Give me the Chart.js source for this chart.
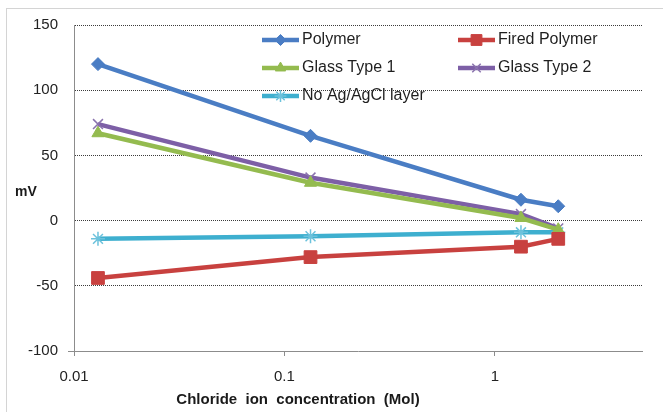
<!DOCTYPE html>
<html>
<head>
<meta charset="utf-8">
<script src="https://cdn.jsdelivr.net/npm/chart.js@4.4.1/dist/chart.umd.min.js"></script>
<style>
  html, body { margin: 0; padding: 0; background: #ffffff; }
  #wrap { width: 663px; height: 412px; position: relative; }
</style>
</head>
<body>
<div id="wrap"><canvas id="chart" width="663" height="412"></canvas></div>
<script>
// Chloride ion concentration (Mol) for each measurement
const concentrations = [0.013, 0.133, 1.33, 2];

// Electrode potential (mV) per electrode type
const polymer = [120, 65, 16, 11];
const firedPolymer = [-44, -28, -20, -14];
const glassType1 = [67, 29, 2, -7];
const glassType2 = [74, 33, 5, -6];
const noAgAgCl = [-14, -12, -9, -9];

const seriesNames = ['Polymer', 'Fired Polymer', 'Glass Type 1', 'Glass Type 2', 'No Ag/AgCl layer'];

// Axis tick labels
const xTickValues = [0.01, 0.1, 1];
const yTickValues = [-100, -50, 0, 50, 100, 150];

const xTitle = 'Chloride  ion  concentration  (Mol)';
const yTitle = 'mV';

const toPoints = (values) => values.map((v, i) => ({ x: concentrations[i], y: v }));

const styles = [
  { color: '#4a7dc4', pointStyle: 'rectRot', radius: 6.5, pointColor: '#4a7dc4', borderWidth: 1 },
  { color: '#c8413f', pointStyle: 'rect', radius: 9, pointColor: '#c8413f', borderWidth: 1 },
  { color: '#94bb4f', pointStyle: 'triangle', radius: 7, pointColor: '#94bb4f', borderWidth: 1 },
  { color: '#7d5fa6', pointStyle: 'crossRot', radius: 7, pointColor: '#8a73ad', borderWidth: 1.5 },
  { color: '#3eafcf', pointStyle: 'star', radius: 7, pointColor: '#6cc2dc', borderWidth: 1.5 }
];

const seriesValues = [polymer, firedPolymer, glassType1, glassType2, noAgAgCl];

const datasets = seriesValues.map((vals, i) => ({
  label: seriesNames[i],
  data: toPoints(vals),
  borderColor: styles[i].color,
  backgroundColor: styles[i].pointColor,
  borderWidth: 4.5,
  tension: 0,
  pointStyle: styles[i].pointStyle,
  pointRadius: styles[i].radius,
  pointHoverRadius: styles[i].radius,
  pointBackgroundColor: styles[i].pointColor,
  pointBorderColor: styles[i].pointColor,
  pointBorderWidth: styles[i].borderWidth,
  fill: false
}));

// Frame, axis titles and the in-plot two-column legend
const decorations = {
  id: 'decorations',
  beforeDraw(chart) {
    const ctx = chart.ctx;
    ctx.save();
    ctx.fillStyle = '#ffffff';
    ctx.fillRect(0, 0, chart.width, chart.height);
    ctx.strokeStyle = '#d4d4d4';
    ctx.lineWidth = 1;
    ctx.strokeRect(6.5, 8.5, chart.width + 20, chart.height + 20);
    ctx.restore();
  },
  afterDraw(chart) {
    const ctx = chart.ctx;
    ctx.save();
    // axis titles
    ctx.fillStyle = '#1a1a1a';
    ctx.font = 'bold 14px "Liberation Sans", Arial, sans-serif';
    ctx.textAlign = 'left';
    ctx.textBaseline = 'middle';
    ctx.fillText(yTitle, 15, 192);
    ctx.font = 'bold 15px "Liberation Sans", Arial, sans-serif';
    ctx.textAlign = 'center';
    ctx.fillText(xTitle, 298, 400);

    // legend
    const colX = [262, 458];
    const rowY = [40, 68, 96];
    const sampleLen = 37;
    chart.data.datasets.forEach((ds, i) => {
      const x0 = colX[i % 2];
      const y = rowY[Math.floor(i / 2)];
      ctx.strokeStyle = ds.borderColor;
      ctx.lineWidth = 4.5;
      ctx.beginPath();
      ctx.moveTo(x0, y);
      ctx.lineTo(x0 + sampleLen, y);
      ctx.stroke();
      ctx.fillStyle = ds.pointBackgroundColor;
      ctx.strokeStyle = ds.pointBorderColor;
      ctx.lineWidth = ds.pointBorderWidth;
      Chart.helpers.drawPoint(ctx, {
        pointStyle: ds.pointStyle,
        radius: ds.pointRadius * 0.85,
        rotation: 0,
        borderWidth: ds.pointBorderWidth
      }, x0 + sampleLen / 2, y);
      ctx.fillStyle = '#1f1f1f';
      ctx.font = '16px "Liberation Sans", Arial, sans-serif';
      ctx.textAlign = 'left';
      ctx.textBaseline = 'middle';
      ctx.fillText(ds.label, x0 + sampleLen + 3, y);
    });
    ctx.restore();
  }
};

new Chart(document.getElementById('chart'), {
  type: 'line',
  data: { datasets },
  plugins: [decorations],
  options: {
    responsive: false,
    animation: false,
    events: [],
    layout: { padding: { left: 0, top: 25, right: 21, bottom: 0 } },
    plugins: { legend: { display: false }, tooltip: { enabled: false } },
    scales: {
      x: {
        type: 'logarithmic',
        min: 0.01,
        max: 5,
        afterBuildTicks(scale) {
          scale.ticks = xTickValues.map(v => ({ value: v }));
        },
        afterFit(scale) { scale.height = 61; },
        ticks: {
          autoSkip: false,
          maxRotation: 0,
          padding: 12,
          color: '#222222',
          font: { family: '"Liberation Sans", Arial, sans-serif', size: 15 },
          callback: (v) => String(v)
        },
        grid: {
          drawOnChartArea: false,
          drawTicks: true,
          tickLength: 5,
          color: '#8c8c8c'
        },
        border: { display: true, color: '#8c8c8c', width: 1 }
      },
      y: {
        type: 'linear',
        min: -100,
        max: 150,
        afterBuildTicks(scale) {
          scale.ticks = yTickValues.map(v => ({ value: v }));
        },
        afterFit(scale) { scale.width = 74; },
        ticks: {
          padding: 10,
          color: '#222222',
          font: { family: '"Liberation Sans", Arial, sans-serif', size: 15 },
          callback: (v) => String(v)
        },
        grid: {
          drawTicks: true,
          tickLength: 6,
          lineWidth: 1,
          color: (c) => (c.tick && c.tick.value === -100 ? 'rgba(0,0,0,0)' : '#3c3c3c'),
          tickColor: (c) => (c.tick && c.tick.value === -100 ? '#8c8c8c' : 'rgba(0,0,0,0)')
        },
        border: { display: true, color: '#8c8c8c', width: 1, dash: [1, 1] }
      }
    }
  }
});
</script>
</body>
</html>
